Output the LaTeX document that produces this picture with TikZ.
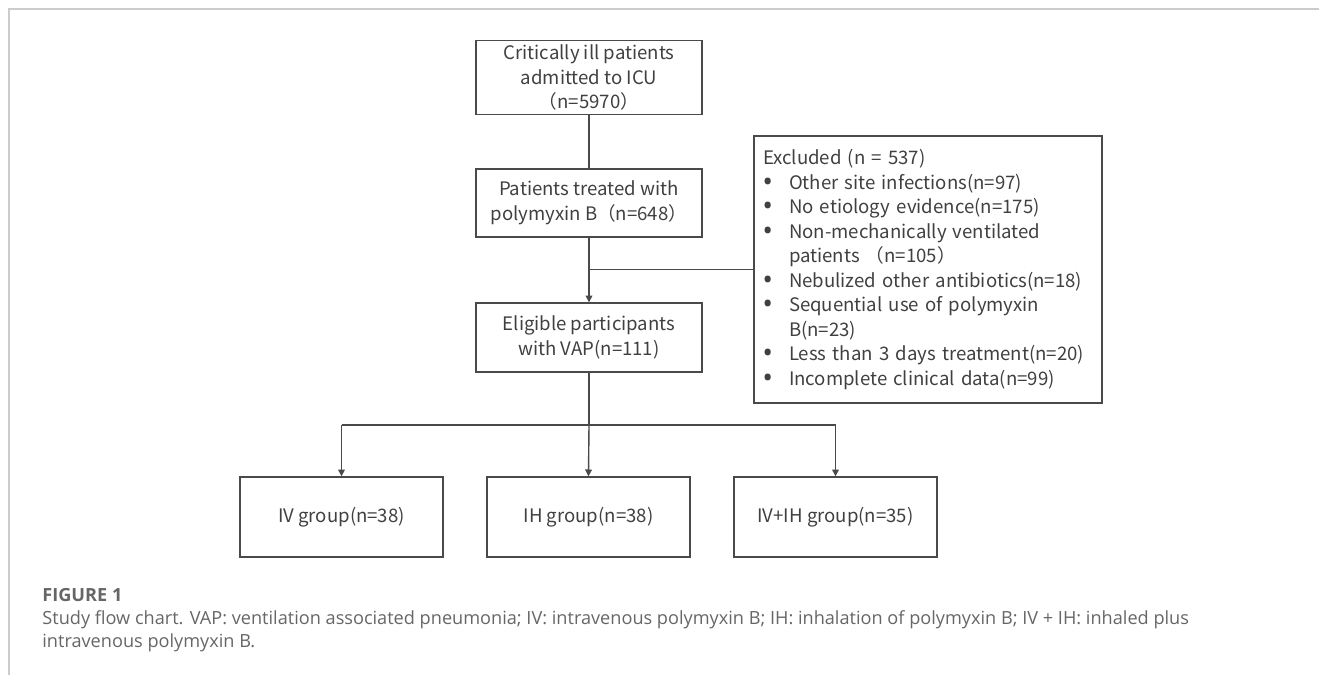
\documentclass[tikz,border=0pt]{standalone}
\usepackage{fontspec}
\setmainfont{Noto Sans CJK SC}
\newfontfamily\capfont{Open Sans}
\usepackage{xcolor}
\usetikzlibrary{arrows.meta,positioning}

\definecolor{boxgray}{HTML}{4A4A4A}
\definecolor{textgray}{HTML}{404040}
\definecolor{capgray}{HTML}{666666}
\definecolor{framegray}{HTML}{CCCCCC}

\hyphenpenalty=10000
\newcommand{\bul}{\makebox[13pt][l]{\hspace{0.3pt}{\capfont\bfseries\fontsize{11}{12}\selectfont •}}}

\tikzset{
  box/.style={draw=boxgray, line width=0.7pt, text=textgray, align=center,
    minimum width=113pt, inner sep=2pt, font=\fontsize{9.3}{12.25}\selectfont},
  flow/.style={draw=boxgray, line width=0.7pt},
  arr/.style={flow, -{Triangle[width=3.4pt,length=3.4pt]}},
  captext/.style={anchor=base west, inner sep=0pt, text=capgray,
    font=\capfont\fontsize{9.07}{11}\selectfont}
}

\begin{document}
\begin{tikzpicture}[x=0.5pt,y=-0.5pt]
\useasboundingbox (0,0) rectangle (1319,675);
\draw[framegray, line width=0.8pt] (9,675) -- (9,9) -- (1319,9);

\node[box, minimum height=34.5pt] (icu) at (589,77.5) {Critically ill patients\\admitted to ICU\\（n=5970）};
\node[box, minimum height=34pt] (pmb) at (589,203) {Patients treated with\\polymyxin B（n=648）};
\node[box, minimum height=34.5pt] (vap) at (589,337.5) {Eligible participants\\with VAP(n=111)};
\node[box, align=left, text width=165pt, inner xsep=4.5pt, minimum height=133.5pt] (excl) at (928,269.5) {Excluded (n = 537)\\
\bul Other site infections(n=97)\\
\bul No etiology evidence(n=175)\\
\bul Non-mechanically ventilated\\
\hspace*{13pt}patients （n=105）\\
\bul Nebulized other antibiotics(n=18)\\
\bul Sequential use of polymyxin\\
\hspace*{13pt}B(n=23)\\
\bul Less than 3 days treatment(n=20)\\
\bul Incomplete clinical data(n=99)};

\node[box, minimum width=101.5pt, minimum height=40pt] (iv) at (341.5,517) {IV group(n=38)};
\node[box, minimum width=101.5pt, minimum height=40pt] (ih) at (588.5,517) {IH group(n=38)};
\node[box, minimum width=101.5pt, minimum height=40pt] (ivih) at (835.5,517) {IV+IH group(n=35)};

% main flow
\coordinate (join) at (pmb.south |- excl.west);
\coordinate (split) at (589,425);
\draw[flow] (icu) -- (pmb);
\draw[arr] (pmb.south) -- (vap.north);
\draw[flow] (excl.west) -- (join);
\draw[flow] (vap.south) -- (split);
\draw[flow] (iv.north |- split) -- (ivih.north |- split);
\draw[arr] (iv.north |- split) -- (iv.north);
\draw[arr] (split) -- (ih.north);
\draw[arr] (ivih.north |- split) -- (ivih.north);

% caption
\node[captext, font=\capfont\bfseries\fontsize{9.07}{11}\selectfont] (figno) at (42,601) {FIGURE 1};
\node[captext] (cap1) at (42,624) {Study flow chart. VAP: ventilation associated pneumonia; IV: intravenous polymyxin B; IH: inhalation of polymyxin B; IV + IH: inhaled plus};
\node[captext] (cap2) at (42,647) {intravenous polymyxin B.};
\end{tikzpicture}
\end{document}
